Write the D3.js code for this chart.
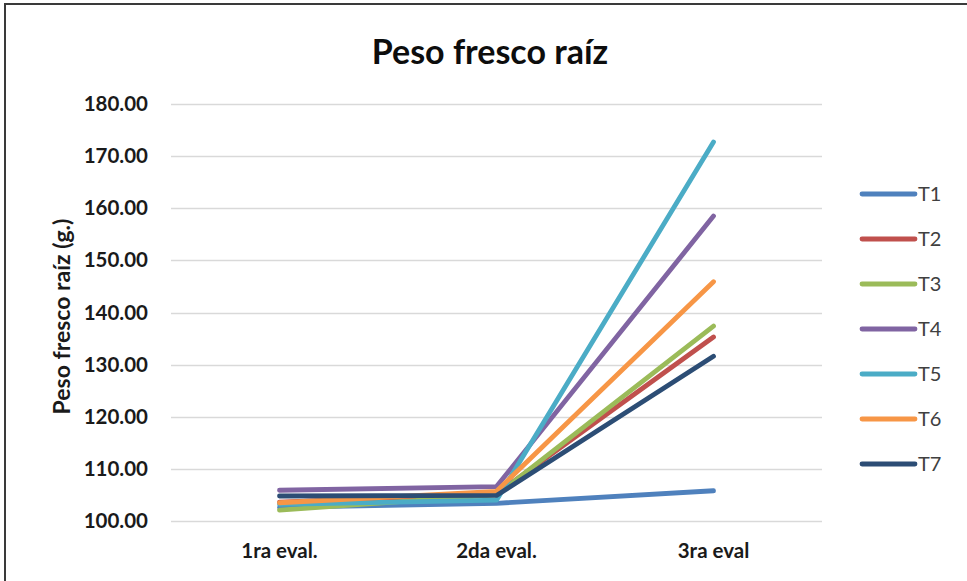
<!DOCTYPE html>
<html>
<head>
<meta charset="utf-8">
<script src="https://cdn.jsdelivr.net/npm/d3@7"></script>
<style>
  html, body { margin: 0; padding: 0; background: #fff; }
  svg { display: block; }
  text { font-family: Lato, "Open Sans", sans-serif; }
</style>
</head>
<body>
<svg id="chart" width="967" height="581"></svg>
<script>
// Evaluations along the x axis
const categories = ["1ra eval.", "2da eval.", "3ra eval"];
// Treatment names
const seriesNames = ["T1", "T2", "T3", "T4", "T5", "T6", "T7"];
// Fresh root weight (g) per treatment at each evaluation
const T1 = [102.6, 103.4, 105.8];
const T2 = [103.6, 105.2, 135.3];
const T3 = [102.1, 105.0, 137.4];
const T4 = [105.9, 106.6, 158.5];
const T5 = [103.2, 104.0, 172.7];
const T6 = [103.5, 105.7, 145.9];
const T7 = [104.8, 104.9, 131.6];
const seriesValues = [T1, T2, T3, T4, T5, T6, T7];
const seriesColors = ["#4F81BD", "#C0504D", "#9BBB59", "#8064A2", "#4BACC6", "#F79646", "#2C4D75"];
// Y axis ticks
const yTicks = [100, 110, 120, 130, 140, 150, 160, 170, 180];

const svg = d3.select("#chart");
const W = 967, H = 581;
const plot = { left: 171, right: 822, top: 104, bottom: 521 };

// Outer chart frame
svg.append("rect")
  .attr("x", 5).attr("y", 4)
  .attr("width", W + 10).attr("height", H + 10)
  .attr("fill", "#fff").attr("stroke", "#3a3a3a").attr("stroke-width", 2);

const x = d3.scaleBand().domain(categories).range([plot.left, plot.right]);
const y = d3.scaleLinear().domain([100, 180]).range([plot.bottom, plot.top]);

// Horizontal gridlines
svg.append("g")
  .selectAll("line")
  .data(yTicks)
  .join("line")
  .attr("x1", plot.left).attr("x2", plot.right)
  .attr("y1", d => Math.round(y(d)) + 0.5).attr("y2", d => Math.round(y(d)) + 0.5)
  .attr("stroke", "#d9d9d9").attr("stroke-width", 1.5);

// Y axis labels
const yAxis = svg.append("g")
  .attr("transform", `translate(${plot.left - 23},0)`)
  .call(d3.axisLeft(y).tickValues(yTicks).tickFormat(d3.format(".2f")).tickSize(0).tickPadding(0));
yAxis.select(".domain").remove();
yAxis.selectAll("text")
  .attr("font-size", 20.5).attr("font-weight", "bold").attr("fill", "#1a1a1a")
  .attr("font-family", "Lato, sans-serif");

// X axis labels
const xAxis = svg.append("g")
  .attr("transform", `translate(0,${plot.bottom + 22})`)
  .call(d3.axisBottom(x).tickSize(0).tickPadding(0));
xAxis.select(".domain").remove();
xAxis.selectAll("text")
  .attr("font-size", 20.5).attr("font-weight", "bold").attr("fill", "#1a1a1a")
  .attr("font-family", "Lato, sans-serif");

// Series lines
const line = d3.line()
  .x((d, i) => x(categories[i]) + x.bandwidth() / 2)
  .y(d => y(d));

svg.append("g")
  .selectAll("path")
  .data(seriesValues)
  .join("path")
  .attr("d", line)
  .attr("fill", "none")
  .attr("stroke", (d, i) => seriesColors[i])
  .attr("stroke-width", 4.8)
  .attr("stroke-linecap", "round")
  .attr("stroke-linejoin", "round");

// Title
svg.append("text")
  .attr("x", 490).attr("y", 64)
  .attr("text-anchor", "middle")
  .attr("font-size", 34).attr("font-weight", "bold").attr("fill", "#0d0d0d")
  .text("Peso fresco raíz");

// Y axis title
svg.append("text")
  .attr("transform", `translate(70,${(plot.top + plot.bottom) / 2 + 4}) rotate(-90)`)
  .attr("text-anchor", "middle")
  .attr("font-size", 23).attr("font-weight", "bold").attr("fill", "#1a1a1a")
  .text("Peso fresco raíz (g.)");

// Legend
const legend = svg.append("g").attr("transform", "translate(860,194)");
const items = legend.selectAll("g")
  .data(seriesNames)
  .join("g")
  .attr("transform", (d, i) => `translate(0,${i * 45})`);
items.append("line")
  .attr("x1", 2).attr("x2", 55)
  .attr("y1", 0).attr("y2", 0)
  .attr("stroke", (d, i) => seriesColors[i])
  .attr("stroke-width", 4.8)
  .attr("stroke-linecap", "round");
items.append("text")
  .attr("x", 58).attr("y", 7)
  .attr("font-size", 20).attr("fill", "#404040")
  .text(d => d);
</script>
</body>
</html>
